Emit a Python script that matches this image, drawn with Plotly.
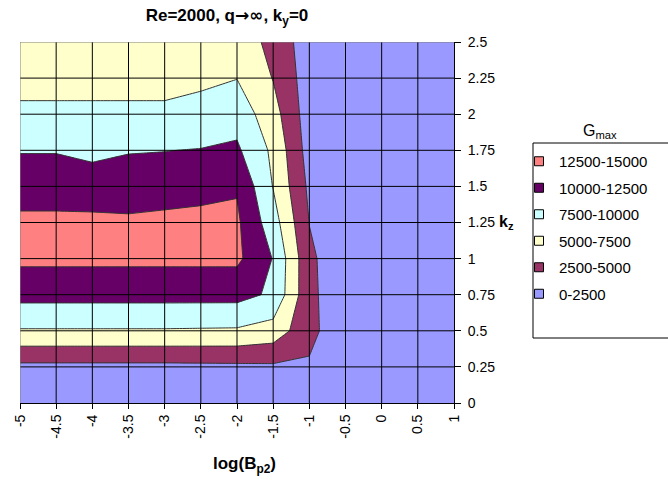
import plotly.graph_objects as go

# ---------------- data ----------------
log_bp2 = [-5, -4.5, -4, -3.5, -3, -2.5, -2, -1.5, -1, -0.5, 0, 0.5, 1]
kz = [0, 0.25, 0.5, 0.75, 1, 1.25, 1.5, 1.75, 2, 2.25, 2.5]

# Gmax rows, one per kz value, columns follow log_bp2
gmax_kz000 = [300, 300, 300, 300, 300, 300, 300, 300, 250, 200, 150, 120, 100]
gmax_kz025 = [1900, 1900, 1900, 1900, 1900, 1950, 2000, 2100, 2200, 600, 400, 250, 180]
gmax_kz050 = [7300, 7300, 7300, 7300, 7300, 7250, 7200, 6500, 3200, 700, 450, 300, 200]
gmax_kz075 = [10800, 10800, 10800, 10800, 10800, 10800, 10800, 9600, 3100, 700, 450, 300, 200]
gmax_kz100 = [13000, 13000, 13000, 13000, 13000, 13000, 13000, 9900, 3000, 650, 420, 280, 190]
gmax_kz125 = [13200, 13200, 13200, 13100, 13200, 13200, 12900, 8600, 2450, 600, 400, 260, 180]
gmax_kz150 = [11000, 11000, 10800, 10600, 11200, 11700, 12300, 7400, 2000, 550, 370, 240, 170]
gmax_kz175 = [9900, 9900, 9600, 9930, 9950, 10100, 10400, 7000, 1450, 500, 340, 220, 160]
gmax_kz200 = [7800, 7800, 7800, 7800, 7800, 8200, 9000, 6000, 1200, 450, 310, 200, 150]
gmax_kz225 = [7000, 7000, 7000, 7000, 7000, 7100, 7450, 4900, 1200, 420, 290, 190, 140]
gmax_kz250 = [6500, 6500, 6500, 6500, 6500, 6600, 6800, 4100, 1250, 400, 280, 180, 130]

gmax = [gmax_kz000, gmax_kz025, gmax_kz050, gmax_kz075, gmax_kz100, gmax_kz125,
        gmax_kz150, gmax_kz175, gmax_kz200, gmax_kz225, gmax_kz250]

band_labels = ["12500-15000", "10000-12500", "7500-10000", "5000-7500", "2500-5000", "0-2500"]
band_colors = ["#FF8080", "#660066", "#CCFFFF", "#FFFFCC", "#993366", "#9999FF"]

x_tick_vals = [-5, -4.5, -4, -3.5, -3, -2.5, -2, -1.5, -1, -0.5, 0, 0.5, 1]
x_tick_text = ["-5", "-4.5", "-4", "-3.5", "-3", "-2.5", "-2", "-1.5", "-1", "-0.5", "0", "0.5", "1"]
y_tick_vals = [0, 0.25, 0.5, 0.75, 1, 1.25, 1.5, 1.75, 2, 2.25, 2.5]
y_tick_text = ["0", "0.25", "0.5", "0.75", "1", "1.25", "1.5", "1.75", "2", "2.25", "2.5"]

# ---------------- figure ----------------
W, H = 668, 480
ML, MR, MT, MB = 20, 214, 42, 77
PW, PH = W - ML - MR, H - MT - MB


def px_x(p):
    return (p - ML) / PW


def px_y(p):
    return (H - MB - p) / PH


asc_colors = list(reversed(band_colors))
n = len(asc_colors)
colorscale = [[i / (n - 1), c] for i, c in enumerate(asc_colors)]

fig = go.Figure()
fig.add_trace(go.Contour(
    x=log_bp2, y=kz, z=gmax,
    autocontour=False,
    contours=dict(start=2500, end=12500, size=2500, coloring="fill", showlines=True),
    line=dict(color="#333333", width=1, smoothing=0),
    colorscale=colorscale, showscale=False,
    hoverinfo="skip", showlegend=False,
))

for i, (lab, col) in enumerate(zip(band_labels, band_colors)):
    fig.add_trace(go.Scatter(
        x=[None], y=[None], mode="markers", name=lab, legendgroup=f"g{i}",
        marker=dict(symbol="square", size=9, color=col, line=dict(color="black", width=1)),
    ))

shapes = []
for xv in x_tick_vals[1:-1]:
    shapes.append(dict(type="line", xref="x", yref="y", x0=xv, x1=xv,
                       y0=y_tick_vals[0], y1=y_tick_vals[-1],
                       line=dict(color="black", width=1), layer="above"))
for yv in y_tick_vals[1:-1]:
    shapes.append(dict(type="line", xref="x", yref="y", y0=yv, y1=yv,
                       x0=x_tick_vals[0], x1=x_tick_vals[-1],
                       line=dict(color="black", width=1), layer="above"))
# plot-area edges (left / top) in grey
shapes.append(dict(type="line", xref="x", yref="y", x0=x_tick_vals[0], x1=x_tick_vals[0],
                   y0=y_tick_vals[0], y1=y_tick_vals[-1], line=dict(color="#808080", width=1), layer="above"))
shapes.append(dict(type="line", xref="x", yref="y", y0=y_tick_vals[-1], y1=y_tick_vals[-1],
                   x0=x_tick_vals[0], x1=x_tick_vals[-1], line=dict(color="#808080", width=1), layer="above"))
# legend frame
shapes.append(dict(type="rect", xref="paper", yref="paper",
                   x0=px_x(533), x1=px_x(700), y0=px_y(338), y1=px_y(143),
                   line=dict(color="black", width=1), fillcolor="white", layer="below"))

FONT = "Liberation Sans, Arial, sans-serif"

fig.update_layout(
    width=W, height=H,
    margin=dict(l=ML, r=MR, t=MT, b=MB, autoexpand=False),
    paper_bgcolor="white", plot_bgcolor="white",
    font=dict(family=FONT, size=14, color="black"),
    title=dict(text="<b>Re=2000, q<span style=\"font-family:'DejaVu Sans'\">→∞</span>, k<sub>y</sub>=0</b>",
               x=227 / W, xref="container",
               xanchor="center", y=1 - 15 / H, yref="container", yanchor="middle",
               font=dict(family=FONT, size=17, color="black")),
    xaxis=dict(range=[x_tick_vals[0], x_tick_vals[-1]], tickmode="array",
               tickvals=x_tick_vals, ticktext=x_tick_text, tickangle=-90,
               ticks="outside", ticklen=5, tickcolor="black", tickwidth=1,
               showline=True, linecolor="black", linewidth=1, showgrid=False,
               zeroline=False, tickfont=dict(family=FONT, size=14, color="black")),
    yaxis=dict(range=[y_tick_vals[0], y_tick_vals[-1]], tickmode="array",
               tickvals=y_tick_vals, ticktext=y_tick_text, side="right",
               ticks="outside", ticklen=6, tickcolor="black", tickwidth=1,
               showline=True, linecolor="black", linewidth=1, showgrid=False,
               zeroline=False, ticklabelstandoff=4,
               tickfont=dict(family=FONT, size=14, color="black")),
    legend=dict(x=px_x(519), y=px_y(145), xanchor="left", yanchor="top",
                bgcolor="rgba(0,0,0,0)", borderwidth=0, tracegroupgap=4,
                font=dict(family=FONT, size=15, color="black")),
    shapes=shapes,
    annotations=[
        dict(text="<b>k<sub>z</sub></b>", xref="paper", yref="y", x=px_x(497), y=1.25,
             xanchor="left", yanchor="middle", showarrow=False,
             font=dict(family=FONT, size=16, color="black")),
        dict(text="G<sub>max</sub>", xref="paper", yref="paper", x=px_x(600), y=px_y(131),
             xanchor="center", yanchor="middle", showarrow=False,
             font=dict(family=FONT, size=16, color="black")),
        dict(text="<b>log(B<sub>p2</sub>)</b>", xref="paper", yref="paper", x=px_x(244),
             y=px_y(465), xanchor="center", yanchor="middle", showarrow=False,
             font=dict(family=FONT, size=17, color="black")),
    ],
)

fig.write_html("out.html", config={"displayModeBar": False},
               post_script="document.body.style.margin='0px';")
